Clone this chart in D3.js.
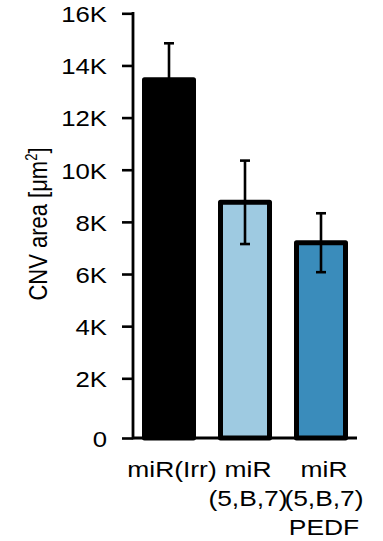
<!DOCTYPE html>
<html>
<head>
<meta charset="utf-8">
<script src="https://cdn.jsdelivr.net/npm/d3@7"></script>
<style>
  html, body { margin: 0; padding: 0; background: #fff; }
  svg { display: block; }
  text { font-family: "Liberation Sans", Arial, sans-serif; fill: #000; }
</style>
</head>
<body>
<svg id="chart" width="383" height="541"></svg>
<script>
// Groups, mean CNV area and error (SD) per group
const groups = ["irr", "mir", "pedf"];
const groupLabels = [["miR(Irr)"], ["miR", "(5,B,7)"], ["miR", "(5,B,7)", "PEDF"]];
const means = [13450, 8750, 7200];
const errors = [1400, 1600, 1130];
const fills = ["#000000", "#9ecae1", "#3a8cbb"];
const yTicks = [0, 2000, 4000, 6000, 8000, 10000, 12000, 14000, 16000];
const yTickLabels = ["0", "2K", "4K", "6K", "8K", "10K", "12K", "14K", "16K"];

// text in this figure is drawn horizontally widened
const tickStretch = 1.12;
const labelStretch = 1.2;

const svg = d3.select("#chart");

// value axis: the zero baseline sits a little below the regular tick spacing
const y = d3.scaleLinear()
  .domain([0, 2000, 16000])
  .range([438, 378.3, 13.3]);

const x = d3.scaleBand()
  .domain(groups)
  .range([131, 359])
  .paddingInner(0)
  .paddingOuter(0);

const barW = 49;

// y axis
const yAxis = d3.axisLeft(y)
  .tickValues(yTicks)
  .tickFormat((d, i) => yTickLabels[i])
  .tickSizeInner(11)
  .tickSizeOuter(0)
  .tickPadding(14);

const gy = svg.append("g")
  .attr("transform", "translate(133,0)")
  .call(yAxis);
gy.select(".domain").remove();
gy.selectAll(".tick line").attr("stroke", "#000").attr("stroke-width", 2.6);
gy.selectAll(".tick text")
  .attr("font-size", 23)
  .attr("font-family", "'Liberation Sans', Arial, sans-serif")
  .attr("x", -26 / tickStretch)
  .attr("transform", `scale(${tickStretch},1)`)
  .attr("dy", "0.36em");

svg.append("line")
  .attr("x1", 133).attr("x2", 133)
  .attr("y1", y(16000) - 1.3).attr("y2", y(0) + 1.3)
  .attr("stroke", "#000").attr("stroke-width", 2.8);

// bars
svg.append("g").selectAll("rect")
  .data(groups)
  .join("rect")
  .attr("x", d => x(d) + x.bandwidth() / 2 - barW / 2)
  .attr("width", barW)
  .attr("y", (d, i) => y(means[i]))
  .attr("height", (d, i) => y(0) - y(means[i]))
  .attr("fill", (d, i) => fills[i])
  .attr("stroke", "#000")
  .attr("stroke-width", 5)
  .attr("stroke-linejoin", "round");

// x axis baseline
svg.append("line")
  .attr("x1", 133).attr("x2", 357)
  .attr("y1", y(0)).attr("y2", y(0))
  .attr("stroke", "#000").attr("stroke-width", 2.8);

// error bars
const eb = svg.append("g").attr("stroke", "#000").attr("stroke-width", 2.6);
groups.forEach((g, i) => {
  const cx = x(g) + x.bandwidth() / 2;
  const top = y(means[i] + errors[i]);
  const bot = y(means[i] - errors[i]);
  eb.append("line").attr("x1", cx).attr("x2", cx).attr("y1", top).attr("y2", bot);
  eb.append("line").attr("x1", cx - 5).attr("x2", cx + 5).attr("y1", top).attr("y2", top);
  eb.append("line").attr("x1", cx - 5).attr("x2", cx + 5).attr("y1", bot).attr("y2", bot);
});

// category labels
const lab = svg.append("g").attr("transform", `scale(${labelStretch},1)`);
groups.forEach((g, i) => {
  const cx = x(g) + x.bandwidth() / 2 + 3;
  groupLabels[i].forEach((line, j) => {
    lab.append("text")
      .attr("x", cx / labelStretch)
      .attr("y", 477 + j * 29)
      .attr("text-anchor", "middle")
      .attr("font-size", 22)
      .text(line);
  });
});

// y axis title
const title = svg.append("text")
  .attr("transform", `translate(47,224) scale(${labelStretch},1) rotate(-90)`)
  .attr("text-anchor", "middle")
  .attr("font-size", 22);
title.append("tspan").text("CNV area [μm");
title.append("tspan").attr("font-size", 13).attr("dy", -8).text("2");
title.append("tspan").attr("dy", 8).text("]");
</script>
</body>
</html>
